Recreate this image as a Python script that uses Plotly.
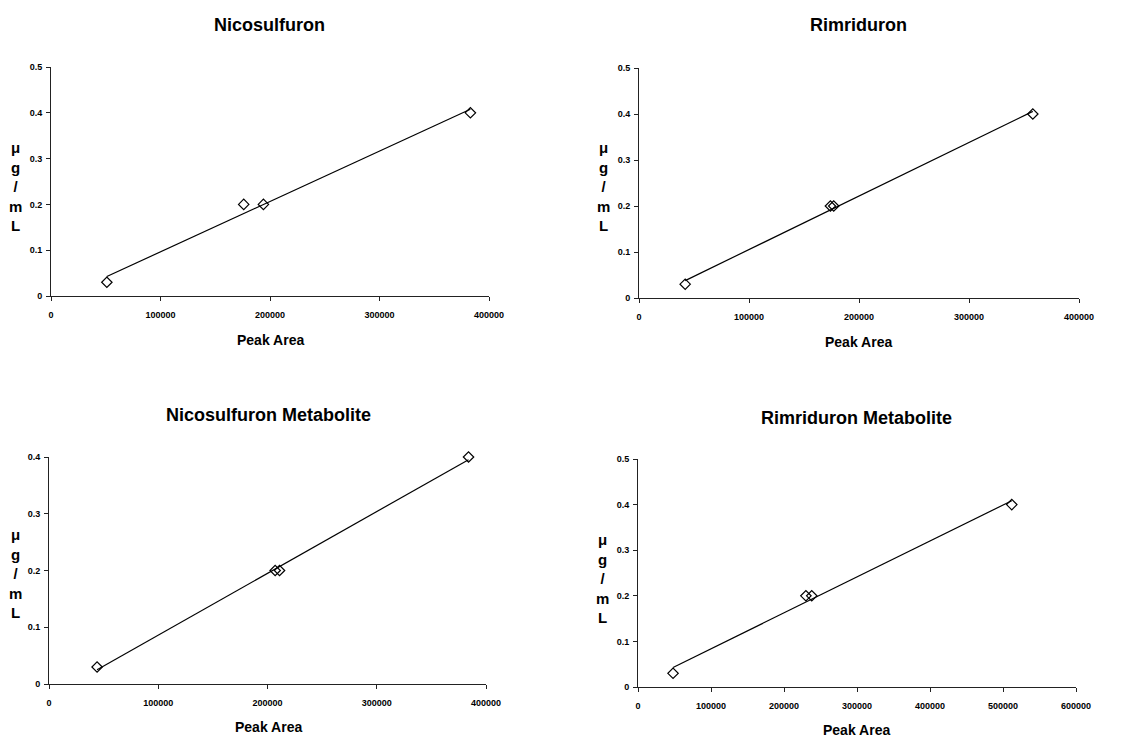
import numpy as np
import plotly.graph_objects as go

W, H = 1143, 739

titles = ["Nicosulfuron", "Rimriduron", "Nicosulfuron Metabolite", "Rimriduron Metabolite"]

nico_area = [51000, 176000, 194000, 383000]
nico_conc = [0.03, 0.2, 0.2, 0.4]
rimr_area = [42000, 174000, 177000, 358000]
rimr_conc = [0.03, 0.2, 0.2, 0.4]
nicom_area = [44000, 207000, 211000, 384000]
nicom_conc = [0.03, 0.2, 0.2, 0.4]
rimrm_area = [48000, 230000, 238000, 512000]
rimrm_conc = [0.03, 0.2, 0.2, 0.4]

x_max = [400000, 400000, 400000, 600000]
y_max = [0.5, 0.5, 0.4, 0.5]

series = [(nico_area, nico_conc), (rimr_area, rimr_conc),
          (nicom_area, nicom_conc), (rimrm_area, rimrm_conc)]

# plot areas in pixels: (left, right, top(ymax), bottom(y=0))
boxes = [(51, 489, 67, 296), (639, 1079, 68, 298),
         (49, 486, 457, 684), (638, 1076, 459, 687)]
title_pos = [(269, 25), (858, 25), (268, 415), (856, 418)]
xlab_pos = [(270, 340), (858, 342), (268, 727), (856, 730)]
ylab_pos = [(15, 186), (603, 186), (15, 573), (602, 578)]

FONT = "Liberation Sans, Arial, sans-serif"

def px(x):
    return x / W

def py(y):
    return 1 - y / H

fig = go.Figure()
annotations = []
layout = {}
for i, ((xs, ys), box) in enumerate(zip(series, boxes)):
    n = "" if i == 0 else str(i + 1)
    xa, ya = "x" + n, "y" + n
    xs_a = np.array(xs, dtype=float)
    ys_a = np.array(ys, dtype=float)
    k, b = np.polyfit(xs_a, ys_a, 1)
    lx = np.array([xs_a.min(), xs_a.max()])
    fig.add_trace(go.Scatter(x=lx, y=k * lx + b, mode="lines",
                             line=dict(color="black", width=1.2),
                             xaxis=xa, yaxis=ya, showlegend=False, hoverinfo="skip",
                             cliponaxis=False))
    fig.add_trace(go.Scatter(x=xs, y=ys, mode="markers",
                             marker=dict(symbol="diamond-open", size=8,
                                         color="black", line=dict(width=1.2, color="black")),
                             xaxis=xa, yaxis=ya, showlegend=False, cliponaxis=False))
    l, r, t, btm = box
    axis_common = dict(showgrid=False, zeroline=False, showline=True,
                       linecolor="#222", linewidth=1, ticks="outside",
                       ticklen=4, tickcolor="#222",
                       tickfont=dict(family=FONT, size=9, color="black", weight="bold"))
    layout["xaxis" + n] = dict(domain=[px(l), px(r)], range=[0, x_max[i]],
                               dtick=100000, tickformat="d", anchor=ya,
                               ticklabelstandoff=6, **axis_common)
    layout["yaxis" + n] = dict(domain=[py(btm), py(t)], range=[0, y_max[i]],
                               dtick=0.1, anchor=xa, ticklabelstandoff=2,
                               **axis_common)
    common_ann = dict(xref="paper", yref="paper", showarrow=False,
                      xanchor="center", yanchor="middle")
    tx, ty = title_pos[i]
    annotations.append(dict(text="<b>" + titles[i] + "</b>", x=px(tx), y=py(ty),
                            font=dict(family=FONT, size=18, color="black"), **common_ann))
    lx_, ly_ = xlab_pos[i]
    annotations.append(dict(text="<b>Peak Area</b>", x=px(lx_), y=py(ly_),
                            font=dict(family=FONT, size=14, color="black"), **common_ann))
    yx, yy = ylab_pos[i]
    annotations.append(dict(text="<b>μ<br>g<br>/<br>m<br>L</b>", x=px(yx), y=py(yy),
                            font=dict(family=FONT, size=15, color="black"), **common_ann))

fig.update_layout(width=W, height=H, autosize=False,
                  margin=dict(l=0, r=0, t=0, b=0, autoexpand=False),
                  paper_bgcolor="white", plot_bgcolor="white",
                  annotations=annotations, **layout)
fig.write_html("out.html", config={"responsive": False, "displayModeBar": False},
               post_script="document.body.style.margin='0';")
